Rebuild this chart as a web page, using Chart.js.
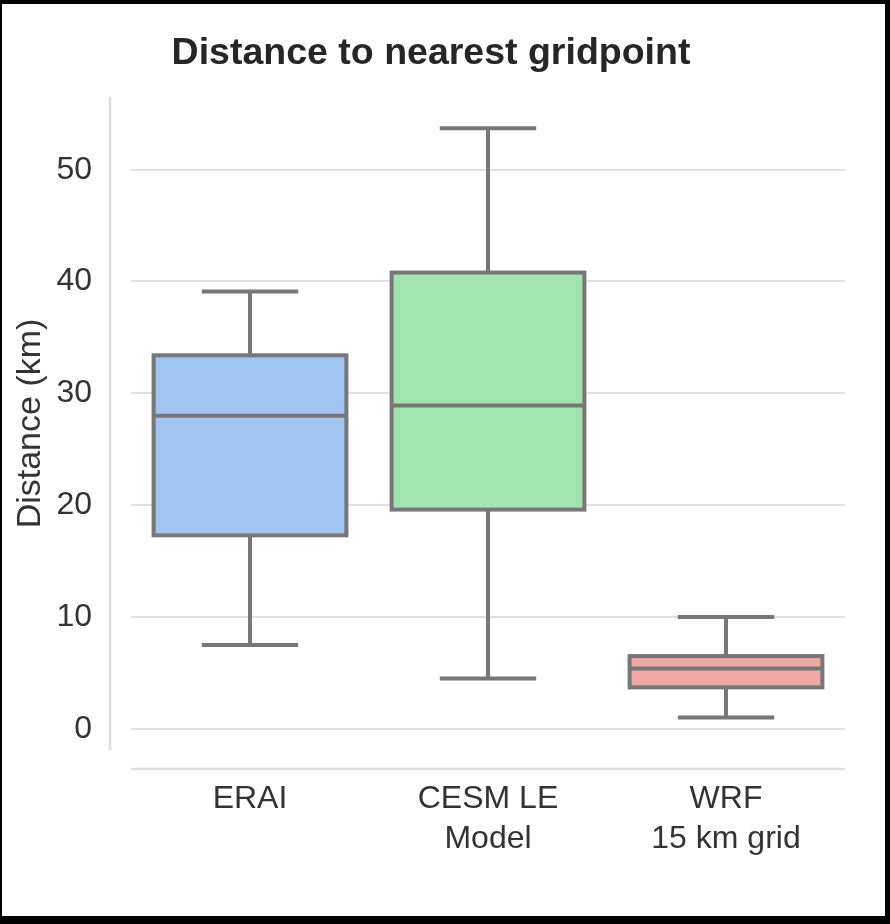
<!DOCTYPE html>
<html>
<head>
<meta charset="utf-8">
<script src="https://cdn.jsdelivr.net/npm/chart.js@4.4.1/dist/chart.umd.min.js"></script>
<style>
  html, body { margin: 0; padding: 0; background: #fff; }
  #frame { position: relative; width: 890px; height: 924px; box-sizing: border-box;
    border-style: solid; border-color: #000; border-width: 4px 5px 8px 2px; background: #fff; }
  #chart { position: absolute; left: 0; top: 0; }
</style>
</head>
<body>
<div id="frame"><canvas id="chart" width="866" height="912"></canvas></div>
<script>
// box plot summary per category (km)
const categories = [['ERAI'], ['CESM LE', 'Model'], ['WRF', '15 km grid']]
const whiskerLow = [7.5, 4.5, 1.0]
const q1 = [17.3, 19.6, 3.7]
const medians = [28.0, 28.9, 5.4]
const q3 = [33.4, 40.8, 6.5]
const whiskerHigh = [39.1, 53.7, 10.0]
const boxColors = ['#a1c4f0', '#a2e4b0', '#f0a8a6']
const yTicks = [0, 10, 20, 30, 40, 50]

const LINE = '#777777'
const FONT = "'Liberation Sans', Arial, Helvetica, sans-serif"

// spines offset from the axes, seaborn despine style
const spines = {
    id: 'spines',
    beforeDatasetsDraw(chart) {
        const { ctx, chartArea } = chart
        ctx.save()
        ctx.strokeStyle = '#dedede'
        ctx.lineWidth = 2.5
        ctx.beginPath()
        ctx.moveTo(chartArea.left - 21, chartArea.top)
        ctx.lineTo(chartArea.left - 21, chartArea.bottom)
        ctx.moveTo(chartArea.left, chartArea.bottom + 19)
        ctx.lineTo(chartArea.right, chartArea.bottom + 19)
        ctx.stroke()
        ctx.restore()
    }
}

// outline, median, whiskers and caps on top of the floating bars
const boxLines = {
    id: 'boxLines',
    afterDatasetsDraw(chart) {
        const { ctx } = chart
        const y = chart.scales.y
        const bars = chart.getDatasetMeta(0).data
        ctx.save()
        ctx.strokeStyle = LINE
        ctx.lineWidth = 4
        bars.forEach((bar, i) => {
            const { x, width } = bar.getProps(['x', 'width'], true)
            const left = x - width / 2
            const right = x + width / 2
            const top = y.getPixelForValue(q3[i])
            const bottom = y.getPixelForValue(q1[i])
            const med = y.getPixelForValue(medians[i])
            const lo = y.getPixelForValue(whiskerLow[i])
            const hi = y.getPixelForValue(whiskerHigh[i])
            const capHalf = width / 4

            ctx.beginPath()
            // whiskers
            ctx.moveTo(x, bottom); ctx.lineTo(x, lo)
            ctx.moveTo(x, top); ctx.lineTo(x, hi)
            // caps
            ctx.moveTo(x - capHalf, lo); ctx.lineTo(x + capHalf, lo)
            ctx.moveTo(x - capHalf, hi); ctx.lineTo(x + capHalf, hi)
            // median
            ctx.moveTo(left, med); ctx.lineTo(right, med)
            ctx.stroke()
            // box outline
            ctx.strokeRect(left, top, right - left, bottom - top)
        })
        ctx.restore()
    }
}

new Chart(document.getElementById('chart'), {
    type: 'bar',
    data: {
        labels: categories,
        datasets: [{
            data: q1.map((v, i) => [v, q3[i]]),
            backgroundColor: boxColors,
            borderWidth: 0,
            categoryPercentage: 0.81,
            barPercentage: 1
        }]
    },
    options: {
        responsive: false,
        animation: false,
        layout: { padding: { left: 15, right: 23, top: 0, bottom: 36 } },
        plugins: {
            legend: { display: false },
            tooltip: { enabled: false },
            title: {
                display: true,
                text: 'Distance to nearest gridpoint',
                color: '#262626',
                font: { family: FONT, size: 37.5, weight: 'bold' },
                padding: { top: 27, bottom: 21 }
            }
        },
        scales: {
            x: {
                grid: { display: false },
                border: { display: false },
                ticks: {
                    color: '#333333',
                    font: { family: FONT, size: 32, lineHeight: 1.25 },
                    padding: 21,
                    maxRotation: 0
                }
            },
            y: {
                min: -1.9,
                max: 56.5,
                afterBuildTicks: (scale) => {
                    scale.ticks = yTicks.map(v => ({ value: v }))
                },
                afterFit: (scale) => {
                    scale.width = 114
                },
                grid: { color: '#e0e0e0', lineWidth: 2, drawTicks: false },
                border: { display: false },
                ticks: {
                    color: '#333333',
                    font: { family: FONT, size: 32 },
                    padding: 39
                },
                title: {
                    display: true,
                    text: 'Distance (km)',
                    color: '#333333',
                    font: { family: FONT, size: 34 },
                    padding: { top: -7, bottom: 4 }
                }
            }
        }
    },
    plugins: [spines, boxLines]
})
</script>
</body>
</html>
